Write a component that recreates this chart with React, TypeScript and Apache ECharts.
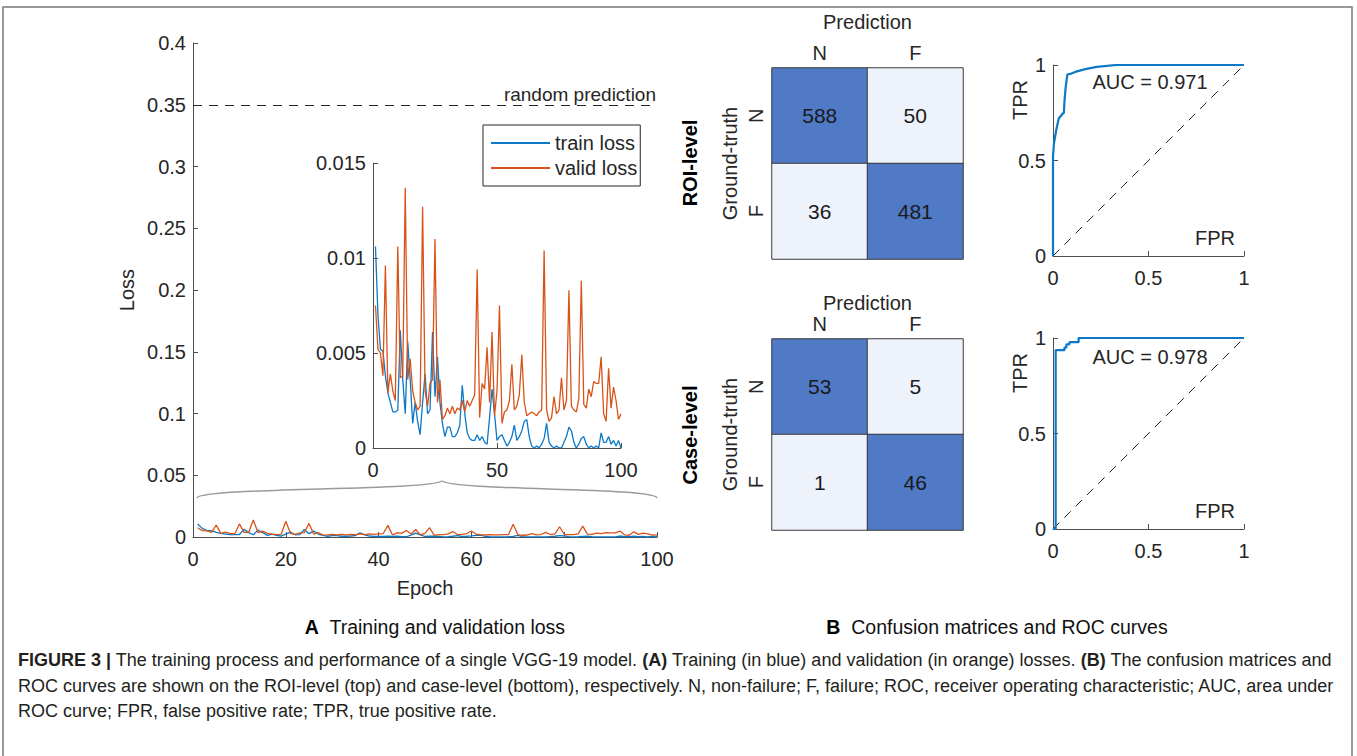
import React, { useEffect, useRef } from "react";
import * as echarts from "echarts";

const FONT = "'Liberation Sans', Arial, sans-serif";
const NARROW = "'Liberation Sans Narrow', 'Liberation Sans', Arial, sans-serif";
const TXT = "#262626";
const AXIS = "#4d4d4d";
const BLUE = "#0B78C8";
const ORANGE = "#D95319";
const DARK = "#5079C6";
const LIGHT = "#EEF2FA";
const FS = 20;

// ---- Panel A data (epochs 1..100) ----
const epochs = [
  1, 2, 3, 4, 5, 6, 7, 8, 9, 10, 11, 12, 13, 14, 15, 16, 17, 18, 19, 20,
  21, 22, 23, 24, 25, 26, 27, 28, 29, 30, 31, 32, 33, 34, 35, 36, 37, 38, 39, 40,
  41, 42, 43, 44, 45, 46, 47, 48, 49, 50, 51, 52, 53, 54, 55, 56, 57, 58, 59, 60,
  61, 62, 63, 64, 65, 66, 67, 68, 69, 70, 71, 72, 73, 74, 75, 76, 77, 78, 79, 80,
  81, 82, 83, 84, 85, 86, 87, 88, 89, 90, 91, 92, 93, 94, 95, 96, 97, 98, 99, 100,
];
const trainLoss = [
  0.0106, 0.0070, 0.0052, 0.0051, 0.0038, 0.0029, 0.0024, 0.0019, 0.0019, 0.0020,
  0.0062, 0.0036, 0.0018, 0.0056, 0.0036, 0.0013, 0.0024, 0.0014, 0.0007, 0.0024,
  0.0039, 0.0018, 0.0020, 0.0061, 0.0027, 0.0048, 0.0024, 0.0013, 0.0006, 0.0011,
  0.0011, 0.0006, 0.0006, 0.0008, 0.0012, 0.0033, 0.0018, 0.0008, 0.0005, 0.0004,
  0.0004, 0.0007, 0.0004, 0.0006, 0.0003, 0.0002, 0.0016, 0.0031, 0.0018, 0.0004,
  0.0006, 0.0007, 0.0004, 0.0001, 0.0003, 0.0006, 0.0012, 0.0004, 0.0006, 0.0009,
  0.0014, 0.0015, 0.0006, 0.0001, 0.0000, 0.0001, 0.0000, 0.0002, 0.0005, 0.0013,
  0.0003, 0.0001, 0.0000, 0.0001, 0.0000, 0.0000, 0.0003, 0.0006, 0.0011, 0.0009,
  0.0003, 0.0000, 0.0002, 0.0005, 0.0006, 0.0002, 0.0000, 0.0001, 0.0000, 0.0001,
  0.0000, 0.0008, 0.0003, 0.0003, 0.0006, 0.0002, 0.0004, 0.0001, 0.0004, 0.0000,
];
const validLoss = [
  0.0075, 0.0052, 0.0050, 0.0038, 0.0096, 0.0029, 0.0039, 0.0030, 0.0025, 0.0106,
  0.0037, 0.0038, 0.0137, 0.0036, 0.0047, 0.0030, 0.0024, 0.0020, 0.0022, 0.0127,
  0.0030, 0.0022, 0.0034, 0.0036, 0.0110, 0.0024, 0.0036, 0.0015, 0.0017, 0.0021,
  0.0018, 0.0022, 0.0018, 0.0021, 0.0020, 0.0025, 0.0019, 0.0025, 0.0022, 0.0025,
  0.0028, 0.0094, 0.0016, 0.0034, 0.0031, 0.0053, 0.0024, 0.0061, 0.0017, 0.0030,
  0.0075, 0.0013, 0.0019, 0.0020, 0.0025, 0.0044, 0.0020, 0.0022, 0.0028, 0.0049,
  0.0024, 0.0017, 0.0018, 0.0019, 0.0018, 0.0017, 0.0019, 0.0020, 0.0104, 0.0020,
  0.0014, 0.0016, 0.0027, 0.0018, 0.0020, 0.0037, 0.0020, 0.0025, 0.0083, 0.0022,
  0.0020, 0.0019, 0.0026, 0.0088, 0.0023, 0.0021, 0.0031, 0.0027, 0.0035, 0.0034,
  0.0034, 0.0048, 0.0018, 0.0014, 0.0042, 0.0021, 0.0032, 0.0025, 0.0015, 0.0018,
];
const randomPrediction = 0.3466;

// ---- Panel B data ----
const cmLabels = ["N", "F"];
const roiMatrix = [
  [588, 50],
  [36, 481],
];
const caseMatrix = [
  [53, 5],
  [1, 46],
];
const roiRoc = [
  [0, 0], [0, 0.52], [0.005, 0.59], [0.017, 0.66], [0.03, 0.72], [0.05, 0.745],
  [0.057, 0.75], [0.06, 0.81], [0.066, 0.88], [0.075, 0.95], [0.096, 0.955],
  [0.12, 0.965], [0.175, 0.98], [0.23, 0.99], [0.33, 1], [1, 1],
];
const caseRoc = [
  [0, 0], [0.014, 0], [0.014, 0.936], [0.06, 0.936], [0.06, 0.95], [0.07, 0.95],
  [0.07, 0.967], [0.086, 0.967], [0.086, 0.978], [0.134, 0.978], [0.134, 1], [1, 1],
];
const chanceLine = [
  [0, 0],
  [1, 1],
];
const roiAuc = "AUC = 0.971";
const caseAuc = "AUC = 0.978";

const captionLines = [
  "{b|FIGURE 3 |} The training process and performance of a single VGG-19 model. {b|(A)} Training (in blue) and validation (in orange) losses. {b|(B)} The confusion matrices and",
  "ROC curves are shown on the ROI-level (top) and case-level (bottom), respectively. N, non-failure; F, failure; ROC, receiver operating characteristic; AUC, area under",
  "ROC curve; FPR, false positive rate; TPR, true positive rate.",
];

function matrixData(m: number[][]) {
  const out: number[][] = [];
  m.forEach((row, r) => row.forEach((v, c) => out.push([c, r, v])));
  return out;
}

const axisBase = (extra: any) => ({
  axisLine: { show: true, onZero: false, lineStyle: { color: AXIS, width: 1 } },
  axisTick: { show: true, inside: true, length: 5, lineStyle: { color: AXIS } },
  axisLabel: { color: TXT, fontSize: FS, fontFamily: FONT },
  splitLine: { show: false },
  nameTextStyle: { color: TXT, fontSize: FS, fontFamily: FONT },
  ...extra,
});

const catAxisX = (gi: number, gap: number) => ({
  type: "category",
  gridIndex: gi,
  data: cmLabels,
  position: "top",
  axisLine: { show: false },
  axisTick: { show: false },
  axisLabel: { color: TXT, fontSize: FS, fontFamily: FONT, margin: 5 },
  name: "Prediction",
  nameLocation: "middle",
  nameGap: gap,
  nameTextStyle: { color: TXT, fontSize: FS, fontFamily: FONT },
});
const catAxisY = (gi: number) => ({
  type: "category",
  gridIndex: gi,
  data: cmLabels,
  inverse: true,
  axisLine: { show: false },
  axisTick: { show: false },
  axisLabel: { color: TXT, fontSize: FS, fontFamily: FONT, rotate: 90, margin: 6 },
  name: "Ground-truth",
  nameLocation: "middle",
  nameGap: 32,
  nameRotate: 90,
  nameTextStyle: { color: TXT, fontSize: FS, fontFamily: FONT },
});

export default function App() {
  const ref = useRef<HTMLDivElement>(null);
  useEffect(() => {
    const chart = echarts.init(ref.current!, undefined, { renderer: "svg" });
    const pairs = (ys: number[]) => epochs.map((e, i) => [e, ys[i]]);
    const plainText = (x: number, y: number, t: string) => ({
      type: "text",
      x,
      y,
      style: { text: t, fill: TXT, fontSize: FS, fontFamily: FONT, align: "center", verticalAlign: "middle" },
    });
    const rotText = (x: number, y: number, t: string, bold = false) => ({
      type: "text",
      x,
      y,
      rotation: Math.PI / 2,
      style: {
        text: t,
        fill: bold ? "#000" : TXT,
        fontSize: FS,
        fontWeight: bold ? "bold" : "normal",
        fontFamily: FONT,
        align: "center",
        verticalAlign: "middle",
      },
    });
    const valAxisX = (gi: number, max: number, interval: number, extra: any = {}) =>
      axisBase({
        type: "value", gridIndex: gi, min: 0, max, interval,
        axisLabel: { color: TXT, fontSize: FS, fontFamily: FONT, margin: 12 },
        ...extra,
      });
    const valAxisY = (gi: number, max: number, interval: number, extra: any = {}) =>
      axisBase({
        type: "value", gridIndex: gi, min: 0, max, interval,
        axisLabel: { color: TXT, fontSize: FS, fontFamily: FONT, margin: 7 },
        ...extra,
      });
    const option: any = {
      animation: false,
      backgroundColor: "#fff",
      textStyle: { fontFamily: FONT },
      grid: [
        { left: 193, top: 43, width: 464, height: 494 },
        { left: 373, top: 163, width: 248, height: 285 },
        { left: 772, top: 68, width: 191, height: 191 },
        { left: 772, top: 339, width: 191, height: 191 },
        { left: 1053, top: 65, width: 191, height: 191 },
        { left: 1053, top: 338, width: 191, height: 191 },
      ],
      xAxis: [
        valAxisX(0, 100, 20, { name: "Epoch", nameLocation: "middle", nameGap: 41 }),
        valAxisX(1, 100, 50),
        catAxisX(2, 36),
        catAxisX(3, 25),
        valAxisX(4, 1, 0.5),
        valAxisX(5, 1, 0.5),
      ],
      yAxis: [
        valAxisY(0, 0.4, 0.05, { name: "Loss", nameLocation: "middle", nameGap: 56, nameRotate: 90 }),
        valAxisY(1, 0.015, 0.005),
        catAxisY(2),
        catAxisY(3),
        valAxisY(4, 1, 0.5),
        valAxisY(5, 1, 0.5),
      ],
      legend: {
        data: ["train loss", "valid loss"],
        orient: "vertical",
        left: 483,
        top: 125,
        icon: "rect",
        itemWidth: 59,
        itemHeight: 2,
        itemGap: 5,
        padding: [8, 3, 8, 8],
        borderColor: TXT,
        borderWidth: 1,
        backgroundColor: "#fff",
        textStyle: { color: TXT, fontSize: FS, fontFamily: FONT },
      },
      visualMap: [
        {
          type: "piecewise", show: false, seriesIndex: 4, dimension: 2,
          pieces: [{ min: 100, color: DARK }, { max: 100, color: LIGHT }],
        },
        {
          type: "piecewise", show: false, seriesIndex: 5, dimension: 2,
          pieces: [{ min: 20, color: DARK }, { max: 20, color: LIGHT }],
        },
      ],
      series: [
        {
          name: "train loss", type: "line", xAxisIndex: 0, yAxisIndex: 0,
          data: pairs(trainLoss), showSymbol: false, color: BLUE,
          lineStyle: { width: 1.3, color: BLUE },
        },
        {
          name: "valid loss", type: "line", xAxisIndex: 0, yAxisIndex: 0,
          data: pairs(validLoss), showSymbol: false, color: ORANGE,
          lineStyle: { width: 1.3, color: ORANGE },
          markLine: {
            silent: true,
            symbol: "none",
            data: [{ yAxis: randomPrediction }],
            lineStyle: { type: [9, 7], color: TXT, width: 1 },
            label: {
              show: true, position: "insideEndTop", formatter: "random prediction",
              color: TXT, fontSize: 19, fontFamily: FONT, distance: 1,
            },
          },
        },
        {
          name: "train loss", type: "line", xAxisIndex: 1, yAxisIndex: 1,
          data: pairs(trainLoss), showSymbol: false, color: BLUE,
          lineStyle: { width: 1.3, color: BLUE },
        },
        {
          name: "valid loss", type: "line", xAxisIndex: 1, yAxisIndex: 1,
          data: pairs(validLoss), showSymbol: false, color: ORANGE,
          lineStyle: { width: 1.3, color: ORANGE },
        },
        {
          name: "ROI-level", type: "heatmap", xAxisIndex: 2, yAxisIndex: 2,
          data: matrixData(roiMatrix),
          itemStyle: { borderColor: "#3a3a3a", borderWidth: 1 },
          label: { show: true, color: "#1a1a1a", fontSize: 21, fontFamily: FONT },
        },
        {
          name: "Case-level", type: "heatmap", xAxisIndex: 3, yAxisIndex: 3,
          data: matrixData(caseMatrix),
          itemStyle: { borderColor: "#3a3a3a", borderWidth: 1 },
          label: { show: true, color: "#1a1a1a", fontSize: 21, fontFamily: FONT },
        },
        {
          name: "ROI ROC", type: "line", xAxisIndex: 4, yAxisIndex: 4,
          data: roiRoc, showSymbol: false, lineStyle: { width: 2.2, color: BLUE }, z: 4,
        },
        {
          name: "ROI chance", type: "line", xAxisIndex: 4, yAxisIndex: 4,
          data: chanceLine, showSymbol: false, lineStyle: { width: 1, color: TXT, type: [9, 7] },
        },
        {
          name: "Case ROC", type: "line", xAxisIndex: 5, yAxisIndex: 5,
          data: caseRoc, showSymbol: false, lineStyle: { width: 2.2, color: BLUE }, z: 4,
        },
        {
          name: "Case chance", type: "line", xAxisIndex: 5, yAxisIndex: 5,
          data: chanceLine, showSymbol: false, lineStyle: { width: 1, color: TXT, type: [9, 7] },
        },
      ],
      graphic: [
        {
          type: "polyline",
          shape: { points: [[3, 756], [3, 7], [1352, 7], [1352, 756]] },
          style: { stroke: "#7a7a7a", lineWidth: 1.5, fill: "none" },
          silent: true,
        },
        {
          type: "bezierCurve",
          shape: { x1: 197, y1: 498, cpx1: 199, cpy1: 487, cpx2: 428, cpy2: 491, x2: 442, y2: 481 },
          style: { stroke: "#9a9a9a", lineWidth: 1.5, fill: "none" },
        },
        {
          type: "bezierCurve",
          shape: { x1: 442, y1: 481, cpx1: 456, cpy1: 491, cpx2: 655, cpy2: 487, x2: 657, y2: 498 },
          style: { stroke: "#9a9a9a", lineWidth: 1.5, fill: "none" },
        },
        rotText(690, 163, "ROI-level", true),
        rotText(690, 435, "Case-level", true),
        plainText(1150, 82, roiAuc),
        plainText(1150, 357, caseAuc),
        plainText(1215, 238, "FPR"),
        plainText(1215, 511, "FPR"),
        rotText(1020, 100, "TPR"),
        rotText(1020, 373, "TPR"),
        {
          type: "text",
          x: 435,
          y: 627,
          style: {
            text: "{b|A}  Training and validation loss",
            rich: { b: { fontWeight: "bold", fontSize: 19.5, fontFamily: NARROW, fill: "#000" } },
            fill: "#111", fontSize: 19.5, fontFamily: NARROW, align: "center", verticalAlign: "middle",
          },
        },
        {
          type: "text",
          x: 997,
          y: 627,
          style: {
            text: "{b|B}  Confusion matrices and ROC curves",
            rich: { b: { fontWeight: "bold", fontSize: 19.5, fontFamily: NARROW, fill: "#000" } },
            fill: "#111", fontSize: 19.5, fontFamily: NARROW, align: "center", verticalAlign: "middle",
          },
        },
        ...captionLines.map((t, i) => ({
          type: "text",
          x: 18,
          y: 660 + i * 25.5,
          style: {
            text: t,
            rich: { b: { fontWeight: "bold", fontSize: 18, fontFamily: NARROW, fill: "#231f20" } },
            fill: "#231f20", fontSize: 18, fontFamily: NARROW, align: "left", verticalAlign: "middle",
          },
        })),
      ],
    };
    chart.setOption(option);
    return () => chart.dispose();
  }, []);
  return (
    <div
      ref={ref}
      style={{ position: "absolute", left: 0, top: 0, width: 1357, height: 756, background: "#fff" }}
    />
  );
}
